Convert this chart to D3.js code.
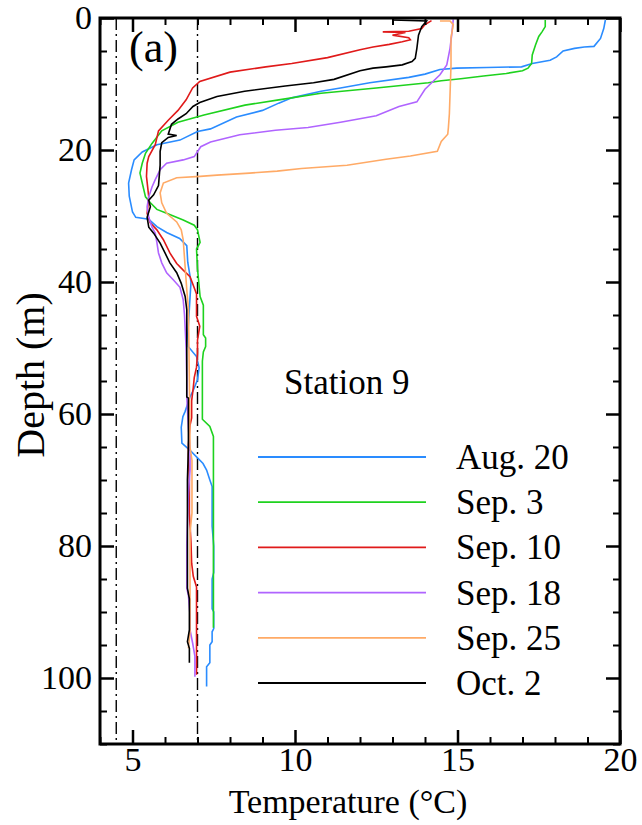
<!DOCTYPE html>
<html>
<head>
<meta charset="utf-8">
<script src="https://cdn.jsdelivr.net/npm/d3@7"></script>
<style>
  html, body { margin: 0; padding: 0; background: #fff; }
  svg { display: block; }
  .serif { font-family: "Liberation Serif", serif; }
</style>
</head>
<body>
<svg id="chart" width="642" height="825" class="serif" font-family="Liberation Serif"></svg>
<script>
// Temperature profiles at Station 9: [temperature (°C), depth (m)]
const aug20 = [[19.55,0.3],[19.5,1.6],[19.4,3.1],[19.2,4.3],[18.9,4.4],[18.6,4.6],[18.25,5.0],[18.05,5.9],[17.85,6.4],[17.3,6.9],[16.97,7.4],[15.9,7.5],[14.97,7.6],[14.46,7.8],[14.0,8.5],[13.5,9.0],[12.3,9.8],[11.4,10.6],[10.8,11.1],[9.9,12.1],[9.5,12.9],[9.0,14.0],[8.2,15.0],[7.4,16.8],[7.0,17.2],[6.46,18.5],[5.75,19.2],[5.3,20.3],[5.05,21.5],[4.97,23],[4.88,25],[4.9,27],[5.0,29.4],[5.1,30.2],[5.5,30.5],[5.75,31.6],[6.05,32.5],[6.45,33.4],[6.67,34.5],[6.7,37],[6.8,40],[6.75,44],[6.7,48],[6.72,49.8],[6.97,51.3],[7.05,53],[7.0,54.8],[6.87,56.4],[6.77,57.4],[6.62,59.6],[6.55,60.4],[6.5,62],[6.52,64.4],[6.77,65.5],[6.97,66.5],[7.17,67.5],[7.28,68.5],[7.38,70],[7.45,71],[7.45,77],[7.5,80],[7.5,84],[7.45,85],[7.45,89.5],[7.5,90],[7.5,92.5],[7.45,93],[7.45,94.5],[7.38,95],[7.38,97.7],[7.28,98.3],[7.28,101.3]];
const sep3 = [[17.7,0.3],[17.7,1.3],[17.6,2.1],[17.5,2.8],[17.4,4.1],[17.3,5.6],[17.28,6.9],[17.17,7.6],[17.0,8.0],[16.5,8.4],[15.8,8.8],[15.1,9.2],[14.5,9.5],[14.1,9.8],[12.5,10.6],[10.8,11.4],[9.5,12.4],[8.46,13.2],[7.2,14.7],[6.4,15.8],[5.9,17.1],[5.6,19.0],[5.4,20.5],[5.3,22],[5.23,23.5],[5.3,25],[5.4,27.1],[5.55,28],[5.75,29],[6.05,29.6],[6.56,30.6],[6.9,31.4],[7.0,32.1],[7.08,34],[6.97,35],[7.0,38],[7.08,42.2],[7.18,43.5],[7.18,48],[7.25,48.5],[7.25,49.8],[7.18,50.6],[7.15,52],[7.15,60.8],[7.38,61.9],[7.49,63.4],[7.49,92.4]];
const sep10 = [[14.2,0.4],[14.0,1.0],[13.9,1.6],[13.5,2.0],[12.7,2.1],[13.4,2.2],[13.0,2.6],[13.5,3.0],[13.55,3.3],[13.3,3.6],[12.9,4.0],[12.4,4.4],[12.0,4.8],[11.0,6.0],[9.9,6.9],[9.1,7.4],[8.0,8.2],[7.07,9.6],[6.85,10.6],[6.65,12.4],[6.4,14],[6.1,15.5],[5.8,17.1],[5.7,19.2],[5.5,21.0],[5.45,22],[5.43,24],[5.5,27.1],[5.45,29.6],[5.54,31],[5.75,32.1],[5.95,33.6],[6.15,35.6],[6.36,37.2],[6.56,38.2],[6.77,39.2],[6.87,40.5],[6.97,41.8],[6.97,45.2],[7.07,46.7],[7.0,48.8],[7.0,50.8],[6.97,52.9],[6.9,54.5],[6.87,56],[6.82,58],[6.82,60.6],[6.77,61.7],[6.72,64.7],[6.72,66.2],[6.75,70],[6.75,75],[6.8,79.5],[6.82,82.6],[6.87,84.6],[6.97,86.2],[6.97,99.5]];
const sep18 = [[14.87,0.2],[14.82,2.6],[14.77,4.6],[14.67,7.1],[14.46,8.6],[14.0,10.8],[13.75,12.7],[13.2,13.4],[12.5,14.8],[11.4,15.8],[10.4,16.6],[9.4,17.0],[8.3,17.7],[7.4,18.8],[7.1,19.5],[6.9,21],[6.56,21.5],[6.05,22],[5.85,23],[5.7,24.5],[5.6,25.6],[5.5,27.1],[5.45,28.6],[5.5,30.2],[5.6,31.7],[5.7,32.6],[5.75,34],[5.8,35.6],[5.9,37.1],[6.05,38.6],[6.26,39.7],[6.46,40.8],[6.56,42.7],[6.6,45],[6.65,50],[6.67,54.5],[6.67,57.4],[6.72,62],[6.77,65.5],[6.77,68.5],[6.72,72],[6.67,79.7],[6.67,86.4],[6.72,87.5],[6.77,90.5],[6.77,92.7],[6.85,94.7],[6.92,96.7],[6.92,99.8]];
const sep25 = [[14.46,0.45],[14.77,0.45],[14.87,1.0],[14.8,3.0],[14.8,7.2],[14.75,14.5],[14.72,16.6],[14.7,17.6],[14.5,18.7],[14.38,20.2],[13.55,20.9],[12.8,21.4],[11.6,22.3],[10.2,22.8],[9.45,23.2],[8.6,23.5],[7.6,23.8],[7.08,24.0],[6.36,24.2],[5.95,25.0],[5.85,26.5],[5.9,28.0],[6.05,29.6],[6.36,30.9],[6.5,32.1],[6.56,33.6],[6.62,37.7],[6.67,41.2],[6.72,44],[6.75,55],[6.77,65],[6.83,67],[6.83,75],[6.77,78],[6.77,93],[6.72,95.5]];
const oct2 = [[13.0,0.3],[14.05,0.45],[13.9,1.3],[13.8,2.6],[13.75,4.6],[13.7,6.1],[13.6,6.6],[13.3,7.1],[12.8,7.4],[12.4,7.6],[12.0,8.0],[11.2,9.3],[10.57,9.8],[9.7,10.3],[8.45,11.1],[7.6,11.9],[7.07,12.8],[6.86,13.4],[6.65,14.5],[6.4,15.3],[6.2,16.1],[6.1,17.6],[6.36,17.8],[6.1,18.1],[5.9,18.9],[5.85,20.2],[5.85,22.3],[5.8,25.4],[5.65,26.8],[5.5,27.6],[5.55,28.6],[5.45,30.2],[5.5,31.7],[5.65,32.6],[5.85,34.1],[6.0,35.6],[6.15,37.1],[6.36,38.6],[6.5,40.2],[6.62,42.2],[6.67,44.2],[6.67,57.4],[6.72,57.6],[6.72,65],[6.69,70],[6.69,86.4],[6.75,88],[6.75,92.7],[6.69,94.5],[6.75,95.5],[6.75,97.7]];

const seriesNames = ["Aug. 20", "Sep. 3", "Sep. 10", "Sep. 18", "Sep. 25", "Oct. 2"];
const seriesValues = [aug20, sep3, sep10, sep18, sep25, oct2];
const seriesColors = ["#2a8cff", "#1ed21e", "#e01a1a", "#b064ff", "#ffaa66", "#000000"];

// Reference isotherms drawn as dash-dot lines
const refTemps = [4.5, 7.0];

const xMajor = [5, 10, 15, 20];
const xMinor = d3.range(4, 21, 1).filter(v => !xMajor.includes(v));
const yMajor = [0, 20, 40, 60, 80, 100];
const yMinor = d3.range(0, 111, 5).filter(v => !yMajor.includes(v));

const svg = d3.select("#chart");
const x = d3.scaleLinear().domain([4, 20]).range([100, 620]);
const y = d3.scaleLinear().domain([0, 110]).range([18, 744]);
const [x0, x1] = x.range();
const [y0, y1] = y.range();

svg.append("defs").append("clipPath").attr("id", "plot")
  .append("rect").attr("x", x0).attr("y", y0).attr("width", x1 - x0).attr("height", y1 - y0);

// dash-dot reference lines
svg.append("g").selectAll("line").data(refTemps).join("line")
  .attr("x1", d => x(d)).attr("x2", d => x(d))
  .attr("y1", y0).attr("y2", y1)
  .attr("stroke", "#000").attr("stroke-width", 1.4)
  .attr("stroke-dasharray", "12,4,2,4");

// profiles
const line = d3.line().x(d => x(d[0])).y(d => y(d[1]));
svg.append("g").attr("clip-path", "url(#plot)")
  .selectAll("path").data(seriesValues).join("path")
  .attr("d", line)
  .attr("fill", "none")
  .attr("stroke", (d, i) => seriesColors[i])
  .attr("stroke-width", 1.6)
  .attr("stroke-linejoin", "miter");

// axes with inward ticks on all four sides
function styleAxis(g, w) {
  g.attr("font-family", "Liberation Serif").attr("font-size", 34);
  g.select(".domain").remove();
  g.selectAll(".tick line").attr("stroke", "#000").attr("stroke-width", w);
  g.selectAll(".tick text").attr("fill", "#000").attr("font-family", "Liberation Serif").attr("font-size", 34).attr("class", "serif");
}
const axisBottomG = svg.append("g").attr("transform", `translate(0,${y1})`);
axisBottomG.append("g").call(d3.axisBottom(x).tickValues(xMajor).tickSize(-14).tickPadding(3).tickFormat(d3.format("d"))).call(g => styleAxis(g, 2.5));
axisBottomG.append("g").call(d3.axisBottom(x).tickValues(xMinor).tickSize(-7).tickFormat("")).call(g => styleAxis(g, 2));

const axisTopG = svg.append("g").attr("transform", `translate(0,${y0})`);
axisTopG.append("g").call(d3.axisTop(x).tickValues(xMajor).tickSize(-14).tickFormat("")).call(g => styleAxis(g, 2.5));
axisTopG.append("g").call(d3.axisTop(x).tickValues(xMinor).tickSize(-7).tickFormat("")).call(g => styleAxis(g, 2));

const axisLeftG = svg.append("g").attr("transform", `translate(${x0},0)`);
axisLeftG.append("g").call(d3.axisLeft(y).tickValues(yMajor).tickSize(-14).tickPadding(8).tickFormat(d3.format("d"))).call(g => styleAxis(g, 2.5));
axisLeftG.append("g").call(d3.axisLeft(y).tickValues(yMinor).tickSize(-7).tickFormat("")).call(g => styleAxis(g, 2));

const axisRightG = svg.append("g").attr("transform", `translate(${x1},0)`);
axisRightG.append("g").call(d3.axisRight(y).tickValues(yMajor).tickSize(-14).tickFormat("")).call(g => styleAxis(g, 2.5));
axisRightG.append("g").call(d3.axisRight(y).tickValues(yMinor).tickSize(-7).tickFormat("")).call(g => styleAxis(g, 2));

// frame
svg.append("rect").attr("x", x0).attr("y", y0).attr("width", x1 - x0).attr("height", y1 - y0)
  .attr("fill", "none").attr("stroke", "#000").attr("stroke-width", 3);

function label(sel, size) {
  return sel.attr("class", "serif").attr("font-family", "Liberation Serif").attr("font-size", size).attr("fill", "#000");
}

// axis titles
label(svg.append("text"), 34).attr("x", 348).attr("y", 813)
  .attr("text-anchor", "middle").text("Temperature (°C)");
label(svg.append("text"), 40).attr("transform", "translate(44,375) rotate(-90)")
  .attr("text-anchor", "middle").text("Depth (m)");

// panel label and station name
label(svg.append("text"), 44).attr("x", 129).attr("y", 62).text("(a)");
label(svg.append("text"), 35).attr("x", 284).attr("y", 394).text("Station 9");

// legend
const legendY = d3.scalePoint().domain(seriesNames).range([457, 683]);
const legend = svg.append("g").selectAll("g").data(seriesNames).join("g")
  .attr("transform", d => `translate(0,${legendY(d)})`);
legend.append("line").attr("x1", 258).attr("x2", 426)
  .attr("stroke", (d, i) => seriesColors[i]).attr("stroke-width", 1.8);
label(legend.append("text"), 35).attr("x", 456).attr("y", 12).text(d => d);
</script>
</body>
</html>
